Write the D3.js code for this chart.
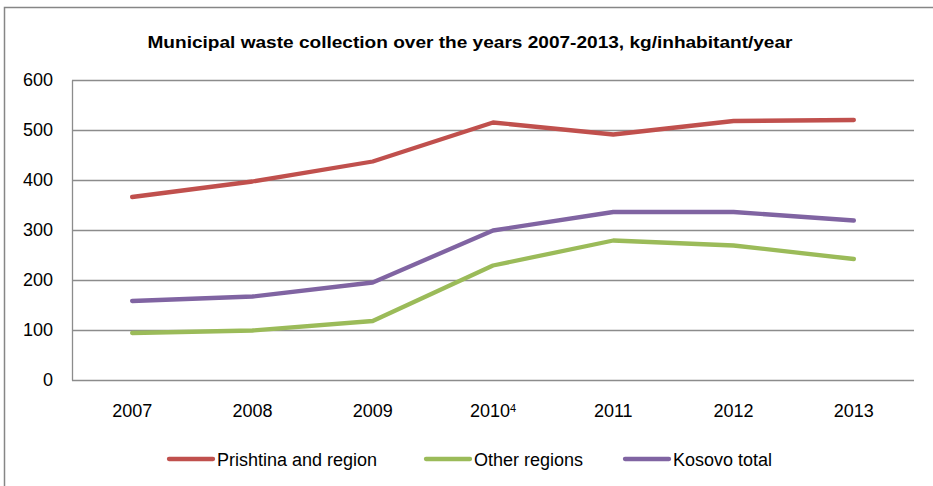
<!DOCTYPE html>
<html>
<head>
<meta charset="utf-8">
<script src="https://cdn.jsdelivr.net/npm/d3@7"></script>
<style>
  body { margin: 0; background: #fff; }
  text { font-family: "Liberation Sans", Arial, sans-serif; fill: #000; }
</style>
</head>
<body>
<div id="chart"></div>
<script>
// values
var years = ["2007", "2008", "2009", "2010", "2011", "2012", "2013"];
var prishtina = [366, 397, 437, 515, 491, 518, 520];
var otherRegions = [94, 99, 118, 229, 279, 269, 242];
var kosovoTotal = [158, 167, 195, 299, 336, 336, 319];
var seriesNames = ["Prishtina and region", "Other regions", "Kosovo total"];
var seriesColors = ["#C0504D", "#9BBB59", "#8064A2"];
var yTicks = [0, 100, 200, 300, 400, 500, 600];

var width = 933, height = 486;
var margin = {left: 72, right: 19, top: 80, bottom: 106};

var svg = d3.select("#chart")
  .append("svg")
  .attr("width", width)
  .attr("height", height);

// outer frame, cut off at right and bottom like the original
svg.append("rect")
  .attr("x", 4.5)
  .attr("y", 7.5)
  .attr("width", width + 10)
  .attr("height", height + 10)
  .attr("fill", "none")
  .attr("stroke", "#868686")
  .attr("stroke-width", 1.5);

var x = d3.scaleBand()
  .domain(years)
  .range([margin.left, width - margin.right]);

var y = d3.scaleLinear()
  .domain([0, 600])
  .range([height - margin.bottom, margin.top]);

svg.append("text")
  .attr("x", 470)
  .attr("y", 48)
  .attr("text-anchor", "middle")
  .style("font-weight", "bold")
  .style("font-size", "17px")
  .attr("textLength", 645)
  .attr("lengthAdjust", "spacingAndGlyphs")
  .text("Municipal  waste collection  over the years 2007-2013, kg/inhabitant/year");

// gridlines
svg.append("g")
  .selectAll("line")
  .data(yTicks)
  .enter()
  .append("line")
  .attr("x1", margin.left)
  .attr("x2", width - margin.right)
  .attr("y1", function(d) { return Math.round(y(d)) + 0.5; })
  .attr("y2", function(d) { return Math.round(y(d)) + 0.5; })
  .attr("stroke", "#8c8c8c")
  .attr("stroke-width", 1.3);

// y axis
var yAxis = svg.append("g")
  .attr("transform", "translate(" + margin.left + ",0)")
  .call(d3.axisLeft(y).tickValues(yTicks).tickSize(0).tickPadding(19));
yAxis.select(".domain").attr("stroke", "#8c8c8c").attr("stroke-width", 1.3);
yAxis.selectAll("text")
  .style("font-size", "18px")
  .style("font-family", "'Liberation Sans', Arial, sans-serif");

// x axis labels
var xAxis = svg.append("g")
  .attr("transform", "translate(0," + (height - margin.bottom) + ")")
  .call(d3.axisBottom(x).tickSize(0).tickPadding(24));
xAxis.select(".domain").remove();
xAxis.selectAll("text")
  .style("font-size", "18px")
  .style("font-family", "'Liberation Sans', Arial, sans-serif")
  .each(function(d) {
    if (d === "2010") {
      d3.select(this).text("2010")
        .append("tspan")
        .attr("dy", "-0.45em")
        .style("font-size", "11px")
        .text("4");
    }
  });

var line = d3.line()
  .x(function(d, i) { return x(years[i]) + x.bandwidth() / 2; })
  .y(function(d) { return y(d); });

var allSeries = [prishtina, otherRegions, kosovoTotal];

svg.append("g")
  .selectAll("path")
  .data(allSeries)
  .enter()
  .append("path")
  .attr("d", line)
  .attr("fill", "none")
  .attr("stroke", function(d, i) { return seriesColors[i]; })
  .attr("stroke-width", 4.3)
  .attr("stroke-linecap", "round")
  .attr("stroke-linejoin", "round");

// legend
var legendX = [169, 426, 625];
var legend = svg.append("g");
legend.selectAll("g").data(seriesNames)
  .enter()
  .append("g")
  .each(function(d, i) {
    var g = d3.select(this);
    g.append("line")
      .attr("x1", legendX[i])
      .attr("x2", legendX[i] + 44)
      .attr("y1", 459)
      .attr("y2", 459)
      .attr("stroke", seriesColors[i])
      .attr("stroke-width", 4.3)
      .attr("stroke-linecap", "round");
    g.append("text")
      .attr("x", legendX[i] + 48)
      .attr("y", 465.5)
      .style("font-size", "18px")
      .text(d);
  });
</script>
</body>
</html>
